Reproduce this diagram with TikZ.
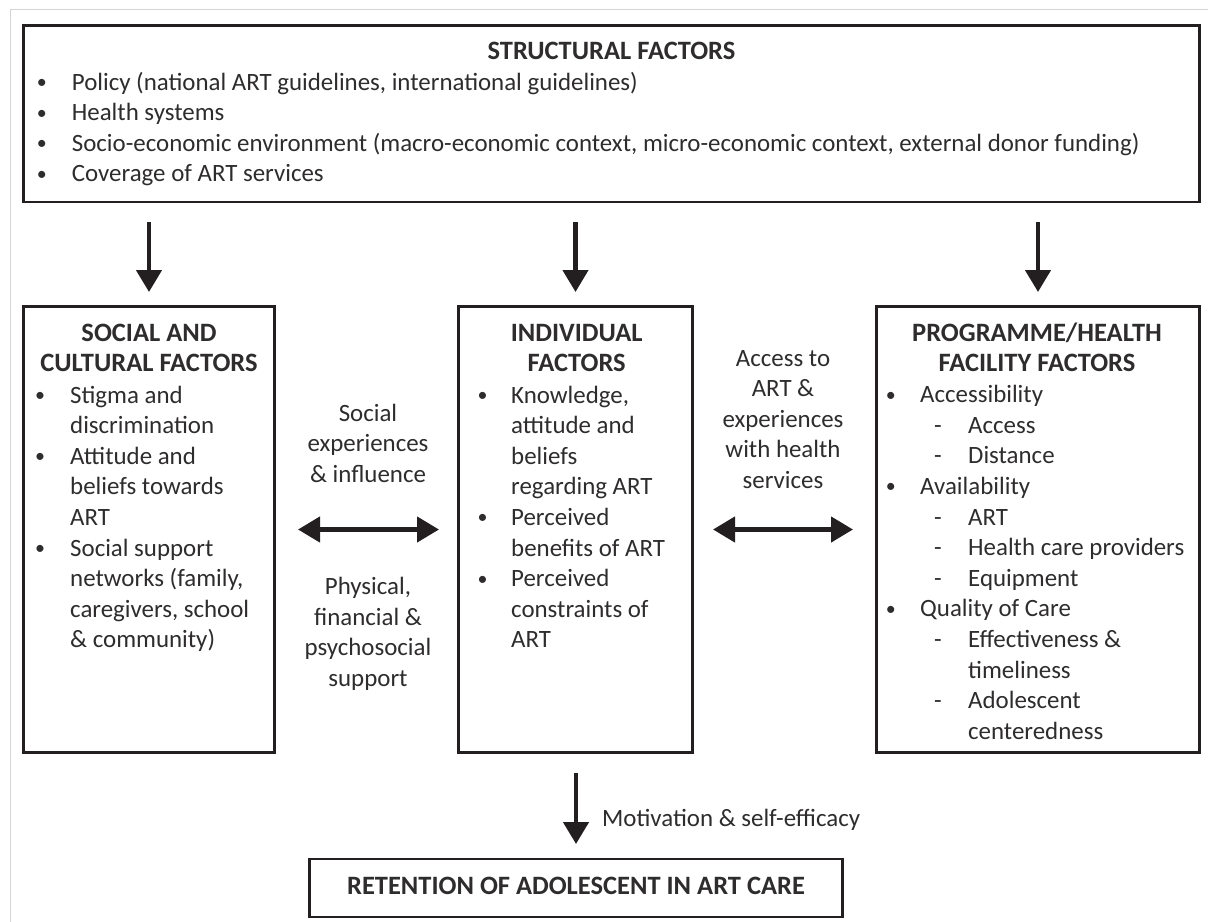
\documentclass[tikz,border=0pt]{standalone}
\usepackage{fontspec}
\setmainfont{Carlito}
\usetikzlibrary{arrows.meta}
\definecolor{ink}{HTML}{231F20}
\definecolor{txt}{HTML}{2E2C2C}
\definecolor{framegray}{HTML}{D4D4D4}
% bullet centred on the current point, then a gap to the item text
\newcommand\bl[1]{\makebox[0pt]{\raisebox{0.06em}{\scalebox{0.8}{\textbullet}}}\hspace*{#1}}
% continuation indent
\newcommand\sk[1]{\hspace*{#1}}
% sub-item dash
\newcommand\dsh{\hspace*{47pt}\makebox[0pt]{-}\hspace*{30.3pt}}
\begin{document}
\begin{tikzpicture}[x=1pt,y=-1pt,
  box/.style={draw=ink, line width=2.6pt, inner sep=0pt},
  txtnode/.style={inner sep=0pt, text=txt, font=\fontsize{24.9}{30.6}\selectfont, align=left},
  head/.style={inner sep=0pt, text=txt, font=\fontsize{26.5}{30.2}\selectfont\bfseries, align=center},
  flow/.style={draw=ink, line width=4.5pt, -{Triangle[length=22pt,width=25pt]}},
  both/.style={draw=ink, line width=4.5pt, {Triangle[length=22pt,width=25pt]}-{Triangle[length=22pt,width=25pt]}},
]
\useasboundingbox (0,0) rectangle (1209,921);
\fill[white] (0,0) rectangle (1209,921);
\draw[framegray, line width=1.6pt] (10.5,935) -- (10.5,9.5) -- (1208,9.5);

% boxes
\node[box, minimum width=1176pt, minimum height=176.5pt] (struct) at (611.5,113.75) {};
\node[box, minimum width=251pt, minimum height=446pt] (social) at (149,529.5) {};
\node[box, minimum width=234pt, minimum height=446pt] (indiv) at (575.5,529.5) {};
\node[box, minimum width=323pt, minimum height=446pt] (prog) at (1038,529.5) {};
\node[box, minimum width=533pt, minimum height=58pt] (retain) at (576,888) {};

% text blocks are placed by the baseline of their last line
% structural factors
\node[head, anchor=base] (structT) at (611.5,59.7) {STRUCTURAL FACTORS};
\node[txtnode, anchor=base west] (structL) at (41.7,181.8) {%
\bl{30pt}Policy (national ART guidelines, international guidelines)\\
\bl{30pt}Health systems\\
\bl{30pt}Socio-economic environment (macro-economic context, micro-economic context, external donor funding)\\
\bl{30pt}Coverage of ART services};

% social and cultural factors
\node[head, anchor=base] (socialT) at (149,371.9) {SOCIAL AND\\CULTURAL FACTORS};
\node[txtnode, anchor=base west] (socialL) at (40,647.8) {%
\bl{30pt}Stigma and\\
\sk{30pt}discrimination\\
\bl{30pt}Attitude and\\
\sk{30pt}beliefs towards\\
\sk{30pt}ART\\
\bl{30pt}Social support\\
\sk{30pt}networks (family,\\
\sk{30pt}caregivers, school\\
\sk{30pt}\& community)};

% individual factors
\node[head, anchor=base] (indivT) at (576.7,371.9) {INDIVIDUAL\\FACTORS};
\node[txtnode, anchor=base west] (indivL) at (482.3,647.8) {%
\bl{28.7pt}Knowledge,\\
\sk{28.7pt}attitude and\\
\sk{28.7pt}beliefs\\
\sk{28.7pt}regarding ART\\
\bl{28.7pt}Perceived\\
\sk{28.7pt}benefits of ART\\
\bl{28.7pt}Perceived\\
\sk{28.7pt}constraints of\\
\sk{28.7pt}ART};

% programme / health facility factors
\node[head, anchor=base] (progT) at (1037,371.9) {PROGRAMME/HEALTH\\FACILITY FACTORS};
\node[txtnode, anchor=base west] (progL) at (890.7,739.2) {%
\bl{29.3pt}Accessibility\\
\dsh Access\\
\dsh Distance\\
\bl{29.3pt}Availability\\
\dsh ART\\
\dsh Health care providers\\
\dsh Equipment\\
\bl{29.3pt}Quality of Care\\
\dsh Effectiveness \&\\
\sk{77.3pt}timeliness\\
\dsh Adolescent\\
\sk{77.3pt}centeredness};

% retention
\node[head, anchor=base] (retainT) at (576,894) {RETENTION OF ADOLESCENT IN ART CARE};

% connector labels
\node[txtnode, align=center, anchor=base] (socLab) at (368,482.5) {Social\\experiences\\\& influence};
\node[txtnode, align=center, anchor=base] (supLab) at (368,686.5) {Physical,\\financial \&\\psychosocial\\support};
\node[txtnode, align=center, anchor=base] (accLab) at (783,488.5) {Access to\\ART \&\\experiences\\with health\\services};
\node[txtnode, anchor=base west] (motLab) at (602,826.7) {Motivation \& self-efficacy};

% connectors
\draw[flow, shorten <=18.7pt, shorten >=13.2pt] (struct.south -| social.north) -- (social.north);
\draw[flow, shorten <=18.7pt, shorten >=13.2pt] (struct.south -| indiv.north) -- (indiv.north);
\draw[flow, shorten <=18.7pt, shorten >=13.2pt] (struct.south -| prog.north) -- (prog.north);
\draw[both, shorten <=22.2pt, shorten >=18.2pt] (social.east) -- (indiv.west);
\draw[both, shorten <=19.2pt, shorten >=22.2pt] (indiv.east) -- (prog.west);
\draw[flow, shorten <=19.2pt, shorten >=13.7pt] (indiv.south -| retain.north) -- (retain.north);
\end{tikzpicture}
\end{document}
